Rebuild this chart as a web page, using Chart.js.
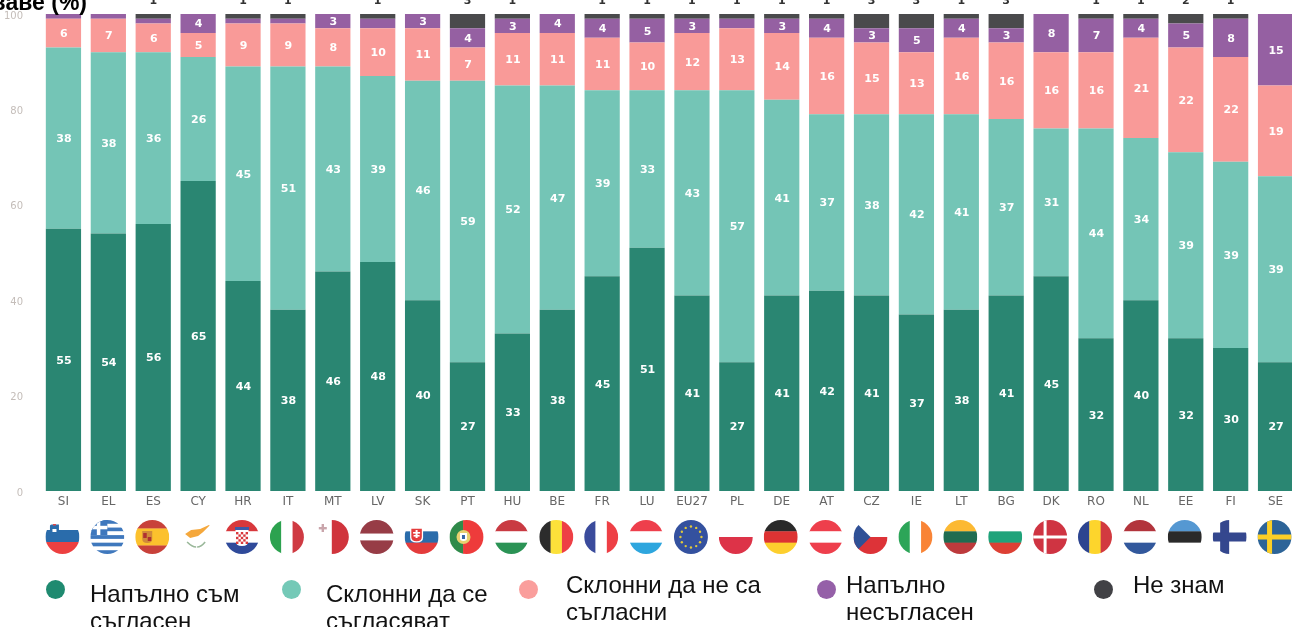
<!DOCTYPE html>
<html lang="bg">
<head>
<meta charset="utf-8">
<title>Chart</title>
<script src="https://cdn.jsdelivr.net/npm/chart.js@4"></script>
<style>
  html, body { margin: 0; height: 100%; overflow: hidden; background: #fff; }
  #wrap { position: relative; width: 1292px; height: 627px; overflow: hidden; }
  #grafico { position: absolute; left: 0; top: 0; filter: blur(0.7px); }
  .titulo { position: absolute; left: -213px; top: -11px; width: 300px; text-align: right;
            font: bold 23px "Liberation Sans", sans-serif; color: #000; white-space: nowrap; }
  .item { position: absolute; font: 24px/27px "Liberation Sans", sans-serif; color: #111; }
  .ponto { position: absolute; width: 19px; height: 19px; border-radius: 50%; filter: blur(0.7px); }
</style>
</head>
<body>
<div id="wrap">
  <canvas id="grafico" width="1298" height="627"></canvas>
  <div class="titulo">ваве (%)</div>

  <span class="ponto" style="left:46px;top:580px;background:#1f8a70"></span>
  <div class="item" style="left:90px;top:580px">Напълно съм<br>съгласен</div>
  <span class="ponto" style="left:282px;top:580px;background:#74c9b7"></span>
  <div class="item" style="left:326px;top:580px">Склонни да се<br>съгласяват</div>
  <span class="ponto" style="left:519px;top:580px;background:#fa9e9c"></span>
  <div class="item" style="left:566px;top:571px">Склонни да не са<br>съгласни</div>
  <span class="ponto" style="left:817px;top:580px;background:#9560a8"></span>
  <div class="item" style="left:846px;top:571px">Напълно<br>несъгласен</div>
  <span class="ponto" style="left:1094px;top:580px;background:#414145"></span>
  <div class="item" style="left:1133px;top:571px">Не знам</div>
</div>

<script>
// ================= DADOS =================
const paises = ["SI","EL","ES","CY","HR","IT","MT","LV","SK","PT","HU","BE","FR","LU","EU27","PL","DE","AT","CZ","IE","LT","BG","DK","RO","NL","EE","FI","SE"];

const napalno =     [55,54,56,65,44,38,46,48,40,27,33,38,45,51,41,27,41,42,41,37,38,41,45,32,40,32,30,27];
const sklonni =     [38,38,36,26,45,51,43,39,46,59,52,47,39,33,43,57,41,37,38,42,41,37,31,44,34,39,39,39];
const sklonniNe =   [ 6, 7, 6, 5, 9, 9, 8,10,11, 7,11,11,11,10,12,13,14,16,15,13,16,16,16,16,21,22,22,19];
const nesaglasen =  [ 1, 1, 1, 4, 1, 1, 3, 2, 3, 4, 3, 4, 4, 5, 3, 2, 3, 4, 3, 5, 4, 3, 8, 7, 4, 5, 8,15];
const neZnam =      [ 0, 0, 1, 0, 1, 1, 0, 1, 0, 3, 1, 0, 1, 1, 1, 1, 1, 1, 3, 3, 1, 3, 0, 1, 1, 2, 1, 0];

const nomes = ["Напълно съм съгласен","Склонни да се съгласяват","Склонни да не са съгласни","Напълно несъгласен","Не знам"];
const cores = ["#2a8672","#74c5b6","#f99a98","#9560a2","#4a4a4c"];

// ================= BANDEIRAS =================
const R = 17;

function horiz(c, lista, pesos) {
  const total = pesos ? pesos.reduce((a,b)=>a+b,0) : lista.length;
  let y = -R;
  lista.forEach((cor, i) => {
    const h = 2 * R * (pesos ? pesos[i] : 1) / total;
    c.fillStyle = cor;
    c.fillRect(-R, y, 2 * R, h + 0.3);
    y += h;
  });
}

function vert(c, lista, pesos) {
  const total = pesos ? pesos.reduce((a,b)=>a+b,0) : lista.length;
  let x = -R;
  lista.forEach((cor, i) => {
    const w = 2 * R * (pesos ? pesos[i] : 1) / total;
    c.fillStyle = cor;
    c.fillRect(x, -R, w + 0.3, 2 * R);
    x += w;
  });
}

function cruz(c, fundo, cor, x, g) {
  c.fillStyle = fundo;
  c.fillRect(-R, -R, 2 * R, 2 * R);
  c.fillStyle = cor;
  c.fillRect(x - g / 2, -R, g, 2 * R);
  c.fillRect(-R, -g / 2, 2 * R, g);
}

function escudo(c, x, y, w, h, cor) {
  c.fillStyle = cor;
  c.beginPath();
  c.moveTo(x - w / 2, y - h / 2);
  c.lineTo(x + w / 2, y - h / 2);
  c.lineTo(x + w / 2, y + h / 6);
  c.quadraticCurveTo(x + w / 2, y + h / 2, x, y + h / 2);
  c.quadraticCurveTo(x - w / 2, y + h / 2, x - w / 2, y + h / 6);
  c.closePath();
  c.fill();
}

const bandeiras = {
  SI(c) {
    horiz(c, ["#ffffff","#2a6cab","#ed4040"], [10,12,12]);
    escudo(c, -8, -7, 9, 11, "#2a6cab");
    c.fillStyle = "#ffffff"; c.fillRect(-10, -8, 4, 3);
    c.fillStyle = "#e04848"; c.fillRect(-9.5, -13, 3, 1.5);
  },
  EL(c) {
    const faixas = [];
    for (let i = 0; i < 9; i++) faixas.push(i % 2 ? "#ffffff" : "#3f78bd");
    horiz(c, faixas);
    c.fillStyle = "#3f78bd"; c.fillRect(-R, -R, 17, 15);
    c.fillStyle = "#ffffff"; c.fillRect(-10.5, -R, 3.5, 15); c.fillRect(-R, -11.2, 17, 3.5);
  },
  ES(c) {
    horiz(c, ["#c8413a","#fcc12d","#c8413a"], [1,2,1]);
    escudo(c, -5, 0, 10, 12, "#d08a3a");
    c.fillStyle = "#b03030"; c.fillRect(-9, -4, 3.5, 5); c.fillRect(-4.5, 0, 3.5, 4);
  },
  CY(c) {
    c.fillStyle = "#ffffff"; c.fillRect(-R, -R, 2 * R, 2 * R);
    c.fillStyle = "#f5a83c";
    c.beginPath();
    c.moveTo(-12, -3); c.lineTo(-6, -7); c.lineTo(3, -8); c.lineTo(14, -13);
    c.lineTo(6, -5); c.lineTo(1, -1); c.lineTo(-7, 1); c.closePath(); c.fill();
    c.strokeStyle = "#9ab89a"; c.lineWidth = 1.6;
    c.beginPath(); c.moveTo(-10, 5); c.quadraticCurveTo(-5, 10, -1, 10); c.stroke();
    c.beginPath(); c.moveTo(8, 5); c.quadraticCurveTo(4, 10, 0, 10); c.stroke();
  },
  HR(c) {
    horiz(c, ["#d8383c","#ffffff","#2f4a9a"]);
    escudo(c, 0, 1, 13, 16, "#ffffff");
    c.fillStyle = "#d8383c";
    for (let i = 0; i < 5; i++) for (let j = 0; j < 5; j++) {
      if ((i + j) % 2 === 0) c.fillRect(-6 + j * 2.4, -5 + i * 2.4, 2.4, 2.4);
    }
    c.fillStyle = "#3d5aa8"; c.fillRect(-7, -10, 14, 3);
  },
  IT(c) { vert(c, ["#2ca24f","#ffffff","#cf3a42"]); },
  MT(c) {
    vert(c, ["#ffffff","#d0343c"]);
    c.fillStyle = "#c9a5ab"; c.fillRect(-13, -10, 8, 2.4); c.fillRect(-10.2, -13, 2.4, 8);
  },
  LV(c) { horiz(c, ["#973c46","#ffffff","#973c46"], [2,1,2]); },
  SK(c) {
    horiz(c, ["#ffffff","#2a6cab","#e43c3c"]);
    escudo(c, -5, -2, 13, 15, "#ffffff");
    escudo(c, -5, -2, 10.5, 12.5, "#e43c3c");
    c.fillStyle = "#ffffff"; c.fillRect(-6, -7, 2, 8); c.fillRect(-8.5, -5, 7, 1.6); c.fillRect(-8, -2, 6, 1.6);
  },
  PT(c) {
    vert(c, ["#2f8a4a","#ee3b3b"], [2,3]);
    c.fillStyle = "#e8d070"; c.beginPath(); c.arc(-3, 0, 7, 0, Math.PI * 2); c.fill();
    escudo(c, -3, 0, 7, 8, "#ffffff");
    c.fillStyle = "#3a66a8"; c.fillRect(-4.5, -2, 3, 4);
  },
  HU(c) { horiz(c, ["#c93a42","#ffffff","#2b9355"]); },
  BE(c) { vert(c, ["#2c2c2c","#fce13a","#ee3f45"]); },
  FR(c) { vert(c, ["#3a4b9c","#ffffff","#ee3f45"]); },
  LU(c) { horiz(c, ["#ee3f4c","#ffffff","#2ea6de"]); },
  EU27(c) {
    c.fillStyle = "#34519f"; c.fillRect(-R, -R, 2 * R, 2 * R);
    c.fillStyle = "#e0c83c";
    for (let i = 0; i < 12; i++) {
      const a = i * Math.PI / 6;
      c.beginPath(); c.arc(Math.cos(a) * 10.5, Math.sin(a) * 10.5, 1.2, 0, Math.PI * 2); c.fill();
    }
  },
  PL(c) { horiz(c, ["#ffffff","#dd3348"]); },
  DE(c) { horiz(c, ["#2a2a2a","#dd3333","#fdcf2e"]); },
  AT(c) { horiz(c, ["#ee3f4c","#ffffff","#ee3f4c"]); },
  CZ(c) {
    horiz(c, ["#ffffff","#dd3338"]);
    c.fillStyle = "#2f5096";
    c.beginPath(); c.moveTo(-R, -R); c.lineTo(0, 0); c.lineTo(-R, R); c.closePath(); c.fill();
  },
  IE(c) { vert(c, ["#2ca558","#ffffff","#f98436"]); },
  LT(c) { horiz(c, ["#fcb932","#1f6c50","#bd3a3c"]); },
  BG(c) { horiz(c, ["#ffffff","#1fa37a","#dd4034"]); },
  DK(c) { cruz(c, "#cf3442", "#ffffff", -5, 3); },
  RO(c) { vert(c, ["#2c4490","#fdd52c","#d23a40"]); },
  NL(c) { horiz(c, ["#b2343c","#ffffff","#32589c"]); },
  EE(c) {
    horiz(c, ["#5598d2","#2a2a2a","#ffffff"]);
  },
  FI(c) { cruz(c, "#ffffff", "#34478e", -5, 9); },
  SE(c) { cruz(c, "#2d6498", "#fccf26", -5, 5); }
};

// ================= PLUGINS =================
const rotulos = {
  id: "rotulos",
  afterDatasetsDraw(chart) {
    const c = chart.ctx;
    c.save();
    c.textAlign = "center";
    c.textBaseline = "middle";
    chart.data.datasets.forEach((ds, i) => {
      chart.getDatasetMeta(i).data.forEach((bar, j) => {
        const v = ds.data[j];
        c.font = 'bold 11px "DejaVu Sans"';
        if (i === 4) {
          // "ne znam" fica em cima da barra
          if (v > 0) {
            c.fillStyle = "#333";
            c.fillText(v, bar.x, 1.5);
          }
        } else if (v >= 3) {
          c.fillStyle = "#fff";
          c.fillText(v, bar.x + 0.5, (bar.y + bar.base) / 2 + 1);
        }
      });
    });
    c.restore();
  }
};

const flags = {
  id: "flags",
  afterDraw(chart) {
    const c = chart.ctx;
    const eixo = chart.scales.x;
    paises.forEach((p, i) => {
      c.save();
      c.translate(eixo.getPixelForTick(i) - 1, 537);
      c.beginPath();
      c.arc(0, 0, R, 0, Math.PI * 2);
      c.clip();
      bandeiras[p](c);
      c.restore();
    });
  }
};

// ================= GRÁFICO =================
const series = [napalno, sklonni, sklonniNe, nesaglasen, neZnam];

new Chart(document.getElementById("grafico").getContext("2d"), {
  type: "bar",
  data: {
    labels: paises,
    datasets: series.map((d, i) => ({
      label: nomes[i],
      data: d,
      backgroundColor: cores[i],
      borderWidth: 0,
      barPercentage: 0.785,
      categoryPercentage: 1
    }))
  },
  options: {
    responsive: false,
    animation: false,
    layout: { padding: { top: 14 } },
    plugins: {
      legend: { display: false },
      tooltip: { enabled: false }
    },
    scales: {
      x: {
        stacked: true,
        grid: { display: false, drawTicks: false },
        border: { display: false },
        ticks: { color: "#666", font: { family: "DejaVu Sans", size: 12 }, padding: 4, maxRotation: 0, autoSkip: false },
        afterFit(s) { s.height = 136; }
      },
      y: {
        stacked: true,
        min: 0,
        max: 100,
        grid: { display: false, drawTicks: false },
        border: { display: false },
        ticks: { stepSize: 20, color: "#c4bdb9", font: { family: "DejaVu Sans", size: 10 }, padding: 18, labelOffset: 2 },
        afterFit(s) {
          s.width = 41;
          // o padding dos ticks empurrava o topo da area do grafico
          s.paddingTop = 0;
        }
      }
    }
  },
  plugins: [rotulos, flags]
});
</script>
</body>
</html>
